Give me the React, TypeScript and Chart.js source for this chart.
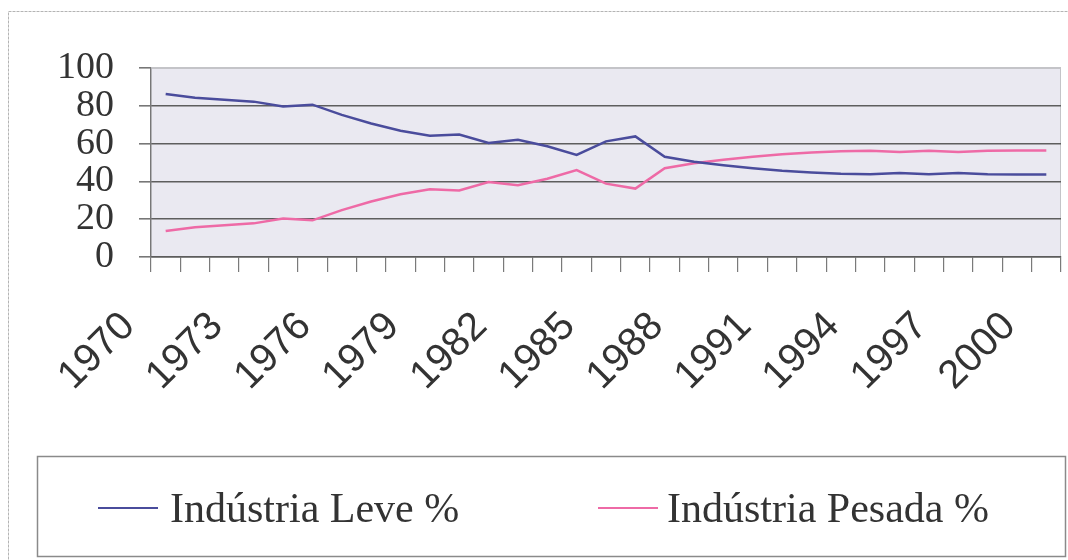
import React, { useEffect, useRef } from "react";
import { Chart, registerables } from "chart.js";

Chart.register(...registerables);

const years: string[] = [
  "1970", "1971", "1972", "1973", "1974", "1975", "1976", "1977", "1978", "1979",
  "1980", "1981", "1982", "1983", "1984", "1985", "1986", "1987", "1988", "1989",
  "1990", "1991", "1992", "1993", "1994", "1995", "1996", "1997", "1998", "1999",
  "2000",
];

const shownYearLabels: string[] = [
  "1970", "1973", "1976", "1979", "1982", "1985", "1988", "1991", "1994", "1997", "2000",
];

const industriaLeve: number[] = [
  86.3, 84.3, 83.2, 82.2, 79.6, 80.6, 75.2, 70.6, 66.8, 64.2,
  64.8, 60.3, 62.0, 58.6, 54.0, 61.2, 63.8, 53.0, 50.4, 48.6,
  47.0, 45.6, 44.7, 44.0, 43.8, 44.5, 43.8, 44.5, 43.8, 43.6,
  43.6,
];

const industriaPesada: number[] = [
  13.7, 15.7, 16.8, 17.8, 20.4, 19.4, 24.8, 29.4, 33.2, 35.8,
  35.2, 39.7, 38.0, 41.4, 46.0, 38.8, 36.2, 47.0, 49.6, 51.4,
  53.0, 54.4, 55.3, 56.0, 56.2, 55.5, 56.2, 55.5, 56.2, 56.4,
  56.4,
];

const yTickValues: number[] = [0, 20, 40, 60, 80, 100];

const seriesLabels: string[] = ["Indústria Leve %", "Indústria Pesada %"];
const seriesColors: string[] = ["#4a4c9c", "#ee6aa6"];

const plotBackground = {
  id: "plotBackground",
  beforeDraw(chart: any) {
    const { ctx, chartArea } = chart;
    ctx.save();
    ctx.strokeStyle = "#b4b4b4";
    ctx.lineWidth = 1;
    ctx.setLineDash([3, 1]);
    ctx.strokeRect(8.5, 11.5, 1080, 600);
    ctx.setLineDash([]);
    ctx.fillStyle = "#eae9f1";
    ctx.fillRect(chartArea.left, chartArea.top, chartArea.right - chartArea.left, chartArea.bottom - chartArea.top);
    ctx.strokeStyle = "#c4c4c8";
    ctx.lineWidth = 1;
    ctx.strokeRect(chartArea.left + 0.5, chartArea.top + 0.5, chartArea.right - chartArea.left - 1, chartArea.bottom - chartArea.top - 1);
    ctx.restore();
  },
};

const boxedLegend = {
  id: "boxedLegend",
  afterDraw(chart: any) {
    const { ctx } = chart;
    ctx.save();
    ctx.strokeStyle = "#8a8a8a";
    ctx.lineWidth = 1.5;
    ctx.strokeRect(37.5, 456.5, 1028, 100);
    const items = [
      { lineX: 98, textX: 170 },
      { lineX: 598, textX: 667 },
    ];
    chart.data.datasets.forEach((ds: any, i: number) => {
      const it = items[i];
      ctx.strokeStyle = ds.borderColor;
      ctx.lineWidth = 2;
      ctx.beginPath();
      ctx.moveTo(it.lineX, 508);
      ctx.lineTo(it.lineX + 60, 508);
      ctx.stroke();
      ctx.fillStyle = "#333333";
      ctx.font = "42px 'Liberation Serif'";
      ctx.textBaseline = "alphabetic";
      ctx.textAlign = "left";
      ctx.fillText(ds.label, it.textX, 522);
    });
    ctx.restore();
  },
};

export default function App() {
  const canvasRef = useRef<HTMLCanvasElement | null>(null);

  useEffect(() => {
    document.body.style.margin = "0";
    const canvas = canvasRef.current;
    if (!canvas) return;
    const chart = new Chart(canvas, {
      type: "line",
      data: {
        labels: years,
        datasets: [
          {
            label: seriesLabels[0],
            data: industriaLeve,
            borderColor: seriesColors[0],
            backgroundColor: seriesColors[0],
            borderWidth: 2.5,
            pointRadius: 0,
            tension: 0,
            fill: false,
          },
          {
            label: seriesLabels[1],
            data: industriaPesada,
            borderColor: seriesColors[1],
            backgroundColor: seriesColors[1],
            borderWidth: 2.5,
            pointRadius: 0,
            tension: 0,
            fill: false,
          },
        ],
      },
      options: {
        responsive: false,
        animation: false,
        devicePixelRatio: 1,
        layout: { padding: { left: 0, top: 68, right: 7, bottom: 120 } },
        plugins: {
          legend: { display: false },
          tooltip: { enabled: false },
          title: { display: false },
        },
        scales: {
          x: {
            type: "category",
            offset: true,
            afterFit: (scale: any) => {
              scale.height = 183;
              scale.paddingLeft = 0;
              scale.paddingRight = 0;
            },
            grid: {
              offset: true,
              drawOnChartArea: false,
              drawTicks: true,
              tickLength: 15,
              color: "#7a7a7a",
              lineWidth: 1.2,
            },
            border: { color: "#5c5c5c", width: 1.5 },
            ticks: {
              autoSkip: false,
              maxRotation: 45,
              minRotation: 45,
              padding: 31,
              labelOffset: -37,
              color: "#333333",
              font: { family: "'Liberation Sans'", size: 40 },
              callback: (_v: any, i: number) =>
                shownYearLabels.includes(years[i]) ? years[i] : "",
            },
          },
          y: {
            min: 0,
            max: 100,
            afterFit: (scale: any) => {
              scale.width = 151;
              scale.paddingTop = 0;
              scale.paddingBottom = 0;
            },
            afterBuildTicks: (scale: any) => {
              scale.ticks = yTickValues.map((v) => ({ value: v }));
            },
            grid: {
              color: (c: any) => (c.tick && c.tick.value === 100 ? "#c4c4c8" : "#5e5e5e"),
              lineWidth: 1.6,
              tickLength: 12,
              tickColor: "#777777",
            },
            border: { color: "#777777", width: 1.2 },
            ticks: {
              autoSkip: false,
              stepSize: 20,
              padding: 25,
              color: "#333333",
              font: { family: "'Liberation Serif'", size: 38 },
            },
          },
        },
      },
      plugins: [plotBackground, boxedLegend],
    });
    return () => chart.destroy();
  }, []);

  return (
    <div style={{ width: 1068, height: 560 }}>
      <canvas ref={canvasRef} width={1068} height={560} />
    </div>
  );
}
